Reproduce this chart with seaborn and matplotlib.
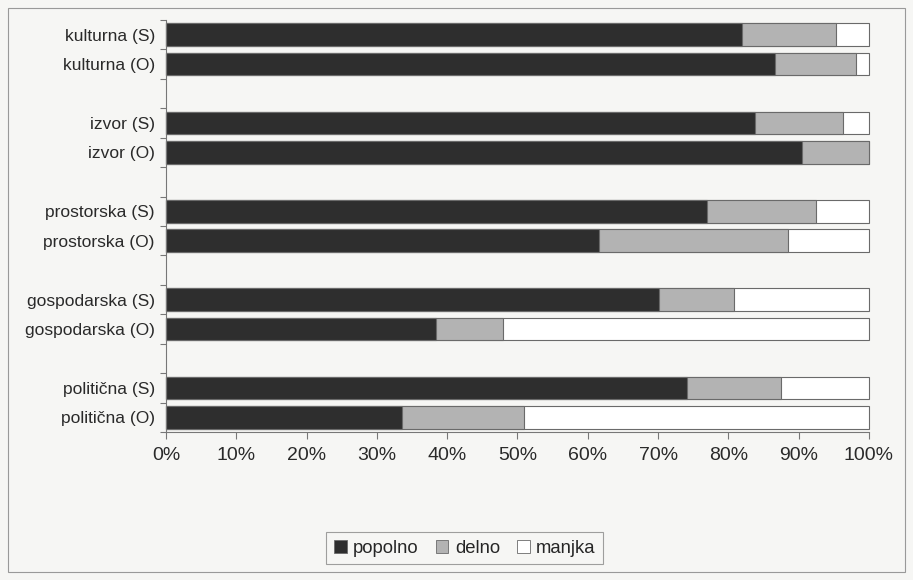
import matplotlib
matplotlib.use("Agg")
import matplotlib.pyplot as plt
import seaborn as sns
import pandas as pd
from matplotlib.patches import Rectangle, Patch
from matplotlib.ticker import PercentFormatter, FixedLocator

categories = ["kulturna (S)", "kulturna (O)", "izvor (S)", "izvor (O)",
              "prostorska (S)", "prostorska (O)", "gospodarska (S)",
              "gospodarska (O)", "politična (S)", "politična (O)"]
popolno = [81.9, 86.7, 83.8, 90.5, 77.0, 61.6, 70.2, 38.4, 74.1, 33.6]
delno = [13.4, 11.5, 12.5, 9.5, 15.4, 26.9, 10.6, 9.6, 13.4, 17.3]
manjka = [4.7, 1.8, 3.7, 0.0, 7.6, 11.5, 19.2, 52.0, 12.5, 49.1]
series_names = ["popolno", "delno", "manjka"]
xticks = [0, 10, 20, 30, 40, 50, 60, 70, 80, 90, 100]

sns.set_theme(style="white")
plt.rcParams["font.family"] = ["Liberation Sans", "DejaVu Sans"]

bg = "#f6f6f4"
c_dark = "#2e2e2e"
c_grey = "#b3b3b3"
c_white = "#ffffff"
edge = "#6a6a6a"

df = pd.DataFrame({"kat": categories, "popolno": popolno,
                   "delno": delno, "manjka": manjka})
df["s_pd"] = df["popolno"] + df["delno"]
df["s_all"] = df["s_pd"] + df["manjka"]

# blank slots separate the pairs of bars
order = ["kulturna (S)", "kulturna (O)", " ",
         "izvor (S)", "izvor (O)", "  ",
         "prostorska (S)", "prostorska (O)", "   ",
         "gospodarska (S)", "gospodarska (O)", "    ",
         "politična (S)", "politična (O)"]

fig = plt.figure(figsize=(9.13, 5.80), dpi=100, facecolor=bg)
ax = fig.add_axes([0.1818, 0.2552, 0.7700, 0.7103])
ax.set_facecolor(bg)

common = dict(y="kat", order=order, orient="y", width=0.77,
              edgecolor=edge, linewidth=0.8, ax=ax, errorbar=None)
sns.barplot(data=df, x="s_all", color=c_white, saturation=1, **common)
sns.barplot(data=df, x="s_pd", color=c_grey, saturation=1, **common)
sns.barplot(data=df, x="popolno", color=c_dark, saturation=1, **common)
for p in ax.patches:
    p.set_clip_on(False)

ax.set_xlim(0, 100)
ax.set_ylim(len(order) - 0.5, -0.5)
ax.set_xlabel("")
ax.set_ylabel("")
ax.xaxis.set_major_locator(FixedLocator(xticks))
ax.xaxis.set_major_formatter(PercentFormatter(decimals=0))
ax.tick_params(axis="x", bottom=True, length=5, width=0.8, color="#777777",
               labelsize=14, labelcolor="#2a2a2a", pad=6)
ax.tick_params(axis="y", which="major", left=False, length=0,
               labelsize=12.5, labelcolor="#2a2a2a", pad=8)
ax.set_yticks([i - 0.5 for i in range(len(order) + 1)], minor=True)
ax.tick_params(axis="y", which="minor", left=True, length=4, width=0.8,
               color="#777777")

for side in ["top", "right"]:
    ax.spines[side].set_visible(False)
for side in ["left", "bottom"]:
    ax.spines[side].set_color("#777777")
    ax.spines[side].set_linewidth(0.8)

handles = [Patch(facecolor=c, edgecolor=edge, linewidth=0.6)
           for c in (c_dark, c_grey, c_white)]
leg = fig.legend(handles, series_names, loc="center",
                 bbox_to_anchor=(0.509, 0.055), ncol=3, fontsize=13.3,
                 frameon=True, fancybox=False, handlelength=0.7,
                 handleheight=0.7, handletextpad=0.35, columnspacing=0.9,
                 borderpad=0.4)
leg.get_frame().set_edgecolor("#888888")
leg.get_frame().set_facecolor(bg)
leg.get_frame().set_linewidth(0.8)

fig.patches.append(Rectangle((8 / 913, 8 / 580), 897 / 913, 564 / 580,
                             transform=fig.transFigure, fill=False,
                             edgecolor="#999999", linewidth=0.8))

fig.savefig("out.png", dpi=100, facecolor=bg)
